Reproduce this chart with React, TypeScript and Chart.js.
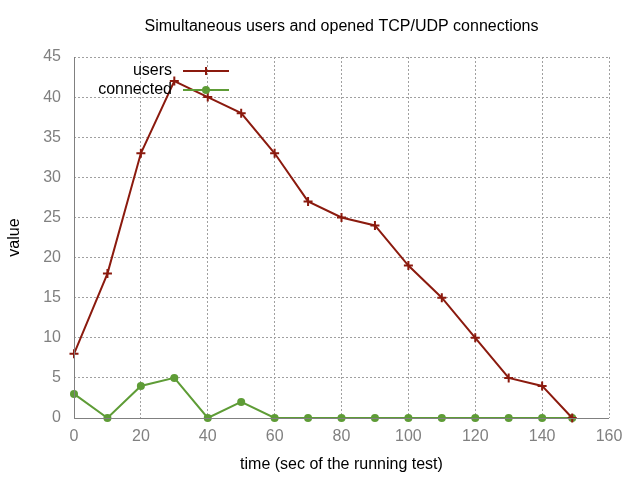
import React, { useEffect, useRef } from "react";
import { Chart, registerables } from "chart.js";

Chart.register(...registerables);

const times = [0, 10, 20, 30, 40, 50, 60, 70, 80, 90, 100, 110, 120, 130, 140, 149];
const users = [8, 18, 33, 42, 40, 38, 33, 27, 25, 24, 19, 15, 10, 5, 4, 0];
const connected = [3, 0, 4, 5, 0, 2, 0, 0, 0, 0, 0, 0, 0, 0, 0, 0];
const titleText = "Simultaneous users and opened TCP/UDP connections";
const xTitle = "time (sec of the running test)";
const yTitle = "value";

const RED = "#8b1a0e";
const GREEN = "#5e9c36";
const FONT = "'Liberation Sans', Arial, sans-serif";

const overlay = {
  id: "overlay",
  afterDraw(chart: any) {
    const ctx = chart.ctx;
    const area = chart.chartArea;
    ctx.save();
    ctx.fillStyle = "#000";
    ctx.font = `16px ${FONT}`;
    ctx.textAlign = "center";
    ctx.textBaseline = "middle";
    ctx.fillText(titleText, (area.left + area.right) / 2, 27);
    ctx.fillText(xTitle, (area.left + area.right) / 2, 465);
    ctx.save();
    ctx.translate(15, (area.top + area.bottom) / 2);
    ctx.rotate(-Math.PI / 2);
    ctx.fillText(yTitle, 0, 0);
    ctx.restore();
    const entries = [
      { label: "users", color: RED, style: "cross", y: 71 },
      { label: "connected", color: GREEN, style: "circle", y: 90 },
    ];
    for (const e of entries) {
      ctx.fillStyle = "#000";
      ctx.textAlign = "right";
      ctx.fillText(e.label, 172, e.y);
      ctx.strokeStyle = e.color;
      ctx.lineWidth = 2;
      ctx.beginPath();
      ctx.moveTo(183, e.y);
      ctx.lineTo(229, e.y);
      ctx.stroke();
      if (e.style === "cross") {
        ctx.beginPath();
        ctx.moveTo(206, e.y - 4);
        ctx.lineTo(206, e.y + 4);
        ctx.moveTo(202, e.y);
        ctx.lineTo(210, e.y);
        ctx.stroke();
      } else {
        ctx.fillStyle = e.color;
        ctx.beginPath();
        ctx.arc(206, e.y, 4, 0, Math.PI * 2);
        ctx.fill();
      }
    }
    ctx.strokeStyle = "#808080";
    ctx.lineWidth = 1;
    ctx.beginPath();
    ctx.moveTo(area.left + 0.5, area.top);
    ctx.lineTo(area.left + 0.5, area.bottom + 0.5);
    ctx.lineTo(area.right, area.bottom + 0.5);
    ctx.stroke();
    ctx.restore();
  },
};

export default function App() {
  const ref = useRef<HTMLCanvasElement>(null);
  useEffect(() => {
    document.body.style.margin = "0";
    const chart = new Chart(ref.current!, {
      type: "line",
      data: {
        datasets: [
          {
            label: "users",
            data: times.map((t, i) => ({ x: t, y: users[i] })),
            borderColor: RED,
            backgroundColor: RED,
            borderWidth: 2,
            pointStyle: "cross",
            pointRadius: 4.5,
            pointBorderWidth: 2,
            pointBorderColor: RED,
            clip: false,
          },
          {
            label: "connected",
            data: times.map((t, i) => ({ x: t, y: connected[i] })),
            borderColor: GREEN,
            backgroundColor: GREEN,
            borderWidth: 2,
            pointStyle: "circle",
            pointRadius: 4,
            pointBorderWidth: 0,
            clip: false,
          },
        ],
      },
      options: {
        responsive: false,
        animation: false,
        layout: { padding: { top: 57, right: 31, left: 0, bottom: 0 } },
        plugins: { legend: { display: false }, title: { display: false }, tooltip: { enabled: false } },
        scales: {
          x: {
            type: "linear",
            min: 0,
            max: 160,
            ticks: { stepSize: 20, color: "#808080", font: { family: FONT, size: 16 }, padding: 9 },
            grid: { color: "#a0a0a0", drawTicks: false, tickLength: 0 },
            border: { display: false, dash: [2, 2] },
            afterFit(scale: any) {
              scale.height = 62;
            },
          },
          y: {
            min: 0,
            max: 45,
            ticks: { stepSize: 5, color: "#808080", font: { family: FONT, size: 16 }, padding: 13 },
            grid: { color: "#a0a0a0", drawTicks: false, tickLength: 0 },
            border: { display: false, dash: [2, 2] },
            afterFit(scale: any) {
              scale.width = 74;
            },
          },
        },
      },
      plugins: [overlay],
    });
    return () => chart.destroy();
  }, []);
  return (
    <div style={{ width: 640, height: 480 }}>
      <canvas ref={ref} width={640} height={480} />
    </div>
  );
}
